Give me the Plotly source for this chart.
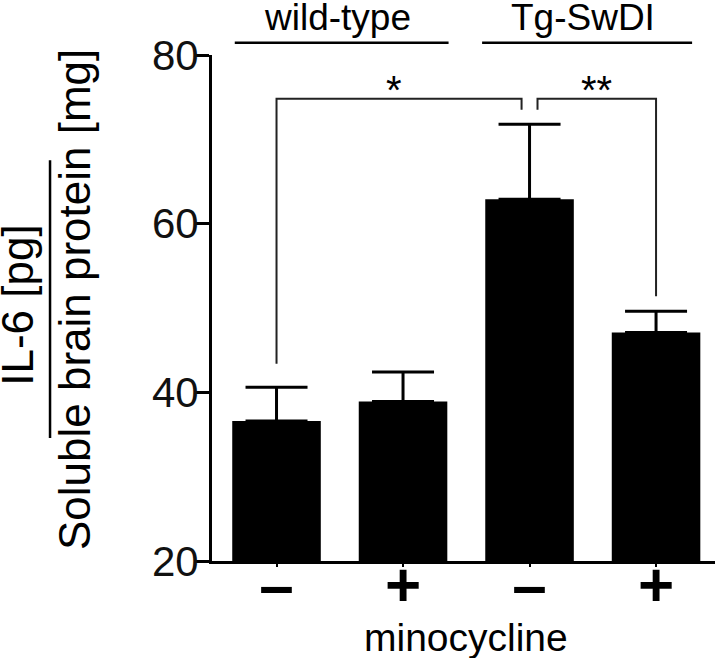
import plotly.graph_objects as go

# ---- data ----
groups = ["wild-type", "Tg-SwDI"]
minocycline = ["–", "+", "–", "+"]
means = [36.6, 38.9, 62.9, 47.1]
sem = [4.0, 3.5, 8.9, 2.5]
y_ticks = [20, 40, 60, 80]
sig_labels = ["*", "**"]

FONT = "Liberation Sans, Arial, sans-serif"
Y0, Y1 = 20, 80
xs = list(range(len(means)))

def yp(v):
    return (v - Y0) / (Y1 - Y0)

fig = go.Figure()
fig.add_trace(go.Bar(
    x=xs, y=means, width=0.7,
    marker=dict(color="black", line=dict(width=0)),
    error_y=dict(type="data", symmetric=False, array=sem, arrayminus=[0]*4,
                 color="black", thickness=3, width=31),
    hoverinfo="skip",
))

tops = [m + s for m, s in zip(means, sem)]
shapes = []
ann = []
line = dict(color="#222222", width=2)

# bracket * : bar0 vs bar2 ; bracket ** : bar2 vs bar3
top1 = 74.8
gap = 0.063
shapes.append(dict(type="path", xref="x", yref="y",
                   path=f"M {xs[0]} {tops[0]+2.8} L {xs[0]} {top1} L {xs[2]-gap} {top1} L {xs[2]-gap} {top1-1.3}",
                   line=line))
shapes.append(dict(type="path", xref="x", yref="y",
                   path=f"M {xs[2]+gap} {top1-1.3} L {xs[2]+gap} {top1} L {xs[3]} {top1} L {xs[3]} {tops[3]+1.8}",
                   line=line))
ann.append(dict(x=(xs[0]+xs[2]-gap)/2 - 0.04, y=top1, xref="x", yref="y", text=sig_labels[0],
                showarrow=False, yanchor="middle", yshift=9,
                font=dict(family=FONT, size=40, color="black")))
ann.append(dict(x=(xs[2]+gap+xs[3])/2, y=top1, xref="x", yref="y", text=sig_labels[1],
                showarrow=False, yanchor="middle", yshift=9,
                font=dict(family=FONT, size=40, color="black")))

# group lines
grp_y = yp(81.45)
grp_spans = [(xs[0] - 0.33, xs[1] + 0.36), (xs[2] - 0.375, xs[3] + 0.285)]
for g, (a, b) in zip(groups, grp_spans):
    shapes.append(dict(type="line", xref="x", yref="paper", x0=a, x1=b,
                       y0=grp_y, y1=grp_y, line=dict(color="black", width=2.5)))
    ann.append(dict(x=(a+b)/2 - 0.03, y=grp_y, xref="x", yref="paper", text=g,
                    showarrow=False, yanchor="bottom", yshift=3,
                    font=dict(family=FONT, size=37, color="black")))

# x title
ann.append(dict(x=1.5, y=-0.152, xref="x", yref="paper", text="minocycline", showarrow=False,
                yanchor="middle", font=dict(family=FONT, size=39, color="black")))

# y title as fraction
ann.append(dict(x=-0.386, y=0.506, xref="paper", yref="paper", text="IL-6 [pg]",
                textangle=-90, showarrow=False, xanchor="center", yanchor="middle",
                font=dict(family=FONT, size=44, color="black")))
ann.append(dict(x=-0.272, y=0.516, xref="paper", yref="paper", text="Soluble brain protein [mg]",
                textangle=-90, showarrow=False, xanchor="center", yanchor="middle",
                font=dict(family=FONT, size=44, color="black")))
shapes.append(dict(type="line", xref="paper", yref="paper", x0=-0.322, x1=-0.322,
                   y0=0.243, y1=0.792, line=dict(color="black", width=2.5)))

fig.update_layout(
    width=720, height=658,
    margin=dict(l=212, r=5, t=55, b=97),
    paper_bgcolor="white", plot_bgcolor="white",
    showlegend=False,
    shapes=shapes, annotations=ann,
    xaxis=dict(range=[-0.51, 3.466], tickmode="array", tickvals=xs,
               ticktext=[f"<b>{t}</b>" for t in minocycline],
               tickfont=dict(family=FONT, size=62, color="black"),
               ticklabelstandoff=-35,
               showline=True, linecolor="black", linewidth=3,
               ticks="outside", ticklen=3, tickwidth=2, tickcolor="black",
               showgrid=False, zeroline=False, fixedrange=True),
    yaxis=dict(range=[Y0, Y1], tickmode="array", tickvals=y_ticks,
               tickfont=dict(family=FONT, size=42, color="#111111"),
               ticklabelstandoff=-11,
               showline=True, linecolor="black", linewidth=3,
               ticks="outside", ticklen=13, tickwidth=3, tickcolor="black",
               showgrid=False, zeroline=False, fixedrange=True),
)

fig.write_html("out.html", config={"displayModeBar": False},
               post_script="document.body.style.margin='0px';")
